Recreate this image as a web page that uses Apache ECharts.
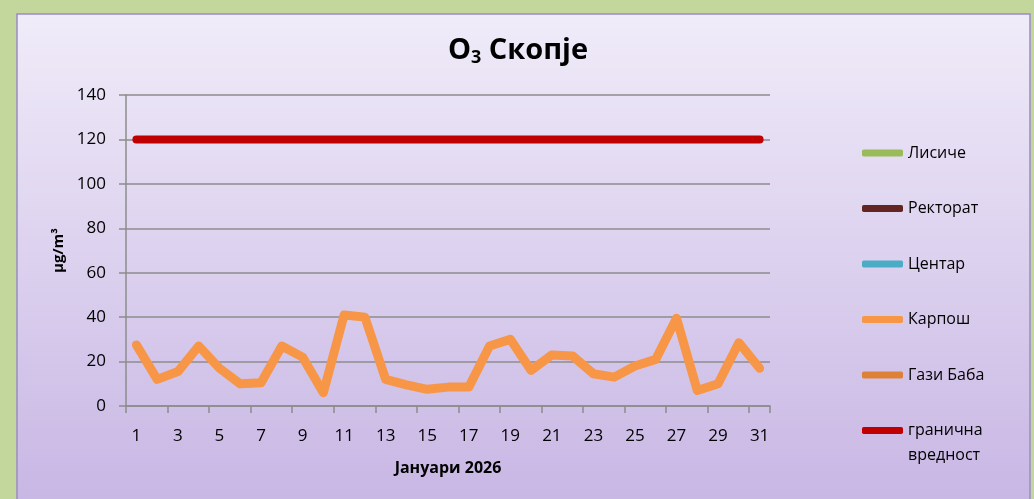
<!DOCTYPE html>
<html>
<head>
<meta charset="utf-8">
<script src="https://cdn.jsdelivr.net/npm/echarts@6/dist/echarts.min.js"></script>
<style>
  html, body { margin: 0; padding: 0; background: #c3d69b; }
  #chart { width: 1034px; height: 499px; }
</style>
</head>
<body>
<div id="chart"></div>
<script>
// дневни вредности, јануари 2026
const days = [];
for (let d = 1; d <= 31; d++) days.push(String(d));

const stationNames = ['Лисиче', 'Ректорат', 'Центар', 'Карпош', 'Гази Баба', 'гранична вредност'];
const stationColors = ['#9bbb59', '#632523', '#4bacc6', '#f79646', '#dd8139', '#c00000'];

const lisiche = [];
const rektorat = [];
const centar = [];
const karposh = [27.5, 12, 15.5, 27, 17, 10, 10.5, 27, 22, 6,
                 41, 40, 12, 9.5, 7.5, 8.5, 8.5, 27, 30, 16,
                 23, 22.5, 14.5, 13, 18, 21, 39.5, 7, 10, 28.5, 17];
const gaziBaba = [];
const limitValue = 120;
const limit = days.map(() => limitValue);

const yTicks = { min: 0, max: 140, interval: 20 };

const font = '"Open Sans", "DejaVu Sans", sans-serif';

const chart = echarts.init(document.getElementById('chart'));

function lineSeries(i, data, width) {
  return {
    name: stationNames[i],
    type: 'line',
    data: data,
    showSymbol: false,
    symbol: 'none',
    color: stationColors[i],
    lineStyle: { width: width, color: stationColors[i], cap: 'round', join: 'round' },
    emphasis: { disabled: true }
  };
}

// легендата не дозволува икона порамнета со првиот ред, па вториот ред е посебен текст
const [limitFirst, limitSecond] = stationNames[5].split(' ');

const option = {
  animation: false,
  backgroundColor: '#c3d69b',
  graphic: [{
    type: 'rect',
    z: -10,
    silent: true,
    shape: { x: 17, y: 14, width: 1013, height: 490 },
    style: {
      fill: new echarts.graphic.LinearGradient(0, 0, 0, 1, [
        { offset: 0, color: '#f0ecf9' },
        { offset: 1, color: '#c8b6e4' }
      ]),
      stroke: '#9c8ac8',
      lineWidth: 1.5
    }
  }, {
    type: 'text',
    silent: true,
    left: 908,
    top: 447,
    style: { text: limitSecond, font: '16px ' + font, fill: '#000' }
  }],
  title: {
    text: '{a|O}{s|3}{a| Скопје}',
    left: 513,
    textAlign: 'center',
    top: 30,
    textStyle: {
      rich: {
        a: { fontFamily: font, fontSize: 29, fontWeight: 'bold', color: '#000' },
        s: { fontFamily: font, fontSize: 18, fontWeight: 'bold', color: '#000', padding: [14, 0, 0, 0] }
      }
    }
  },
  legend: {
    orient: 'vertical',
    left: 862,
    top: 142,
    padding: 0,
    icon: 'roundRect',
    itemWidth: 41,
    itemHeight: 7,
    itemGap: 33.5,
    textStyle: { fontFamily: font, fontSize: 16, color: '#000', lineHeight: 22 },
    data: stationNames,
    formatter: n => (n === stationNames[5] ? limitFirst : n)
  },
  grid: { left: 126, right: 264, top: 95, bottom: 93 },
  xAxis: {
    type: 'category',
    data: days,
    name: 'Јануари 2026',
    nameLocation: 'middle',
    nameGap: 54,
    nameTextStyle: { fontFamily: font, fontSize: 16, fontWeight: 'bold', color: '#000' },
    axisLine: { lineStyle: { color: '#8c8c8c', width: 1.5 } },
    axisTick: { show: true, length: 7, lineStyle: { color: '#8c8c8c', width: 1.5 } },
    axisLabel: { interval: 1, margin: 22, fontFamily: font, fontSize: 17, color: '#000' }
  },
  yAxis: {
    type: 'value',
    min: yTicks.min,
    max: yTicks.max,
    interval: yTicks.interval,
    name: 'μg/m³',
    nameLocation: 'middle',
    nameGap: 56,
    nameTextStyle: { fontFamily: font, fontSize: 15, fontWeight: 'bold', color: '#000' },
    axisLine: { show: true, lineStyle: { color: '#8c8c8c', width: 1.5 } },
    axisTick: { show: true, length: 7, lineStyle: { color: '#8c8c8c', width: 1.5 } },
    splitLine: { lineStyle: { color: '#8c8c8c', width: 1.5 } },
    axisLabel: { margin: 20, fontFamily: font, fontSize: 17, color: '#000' }
  },
  series: [
    lineSeries(0, lisiche, 8),
    lineSeries(1, rektorat, 8),
    lineSeries(2, centar, 8),
    lineSeries(3, karposh, 9),
    lineSeries(4, gaziBaba, 8),
    lineSeries(5, limit, 8)
  ]
};

chart.setOption(option);
</script>
</body>
</html>
